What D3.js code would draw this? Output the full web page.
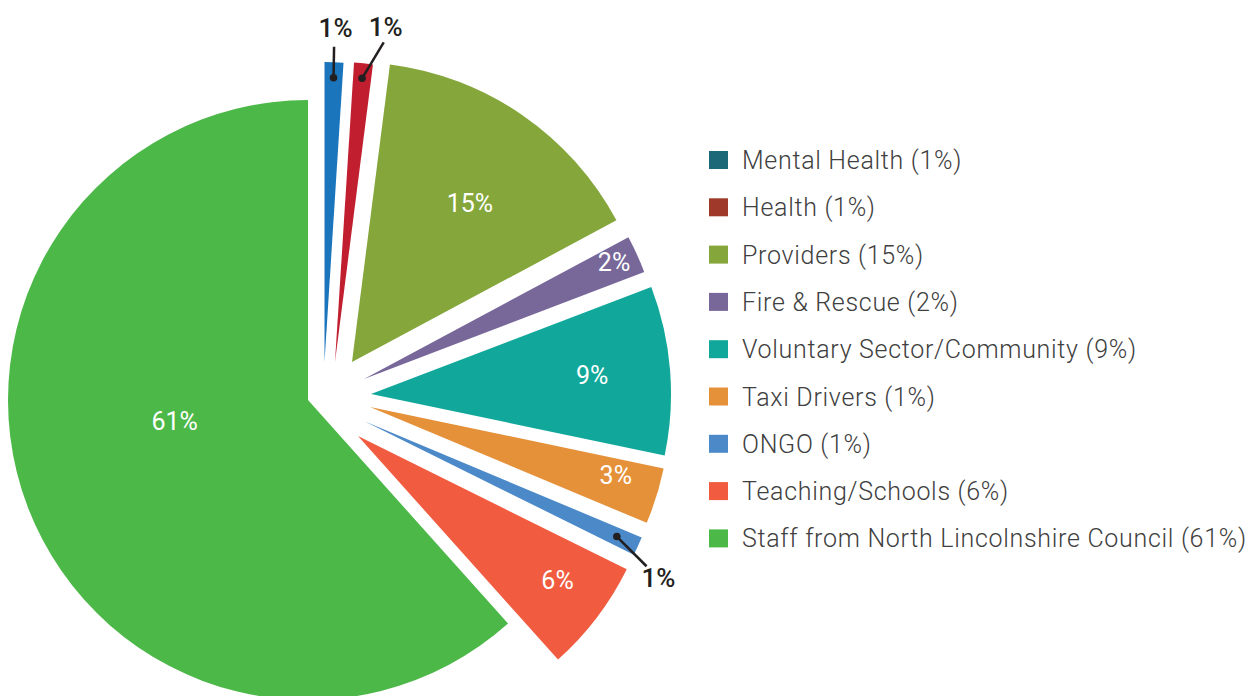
<!DOCTYPE html>
<html>
<head>
<meta charset="utf-8">
<script src="https://cdn.jsdelivr.net/npm/d3@7"></script>
<style>
  body { margin: 0; background: #fff; }
  svg { display: block; font-family: Roboto, "Open Sans", sans-serif; }
</style>
</head>
<body>
<svg id="chart" width="1251" height="696"></svg>
<script>
// data
var categories = ["Mental Health", "Health", "Providers", "Fire & Rescue",
    "Voluntary Sector/Community", "Taxi Drivers", "ONGO", "Teaching/Schools",
    "Staff from North Lincolnshire Council"];
var sliceValues = [1, 1, 15, 2, 9, 3, 1, 6, 61];     // size of each slice / label in the pie
var legendValues = [1, 1, 15, 2, 9, 1, 1, 6, 61];    // numbers printed in the legend
var sliceColors = ["#1b75bc", "#c11f30", "#84a63b", "#786799", "#11a89b",
    "#e5913a", "#4b89c8", "#f15b40", "#4cb848"];
var legendColors = ["#1d6878", "#9f3a2a", "#84a63b", "#786799", "#11a89b",
    "#e5913a", "#4b89c8", "#f15b40", "#4cb848"];

// layout
var cx = 308, cy = 400, R = 300;
// each slice is pulled out: [distance, direction in degrees clockwise from top]
var explode = [[41.4, 23.5], [46.6, 35.4], [58.1, 49.2], [59.8, 69.4], [63.3, 84.6],
    [62.4, 96.4], [60.9, 110.7], [61.6, 125.8], [0, 0]];
// inside labels: [fraction of radius, degrees added to the slice bisector], null = outside label
var inLabel = [null, null, [0.66, 2], [0.92, -0.5], [0.74, -0.5], [0.85, -1.8], null, [0.82, -1.5], [0.45, 12]];
// outside labels: [dot radius fraction, leader length, leader direction, text dx, text dy]
var outLabel = {0: [0.948, 31, 1, 1.5, -10], 1: [0.95, 42, 31, 2, -6], 6: [0.923, 42, 135, 12, 21]};

var rad = Math.PI / 180;
function polar(r, deg) { return [r * Math.sin(deg * rad), -r * Math.cos(deg * rad)]; }

var svg = d3.select("#chart");

var pie = d3.pie().sort(null).value(function(d){ return d; });
var arcs = pie(sliceValues);
var arc = d3.arc().innerRadius(0).outerRadius(R);

var g = svg.append("g").attr("transform", "translate(" + cx + "," + cy + ")");

var slices = g.selectAll("g.slice")
    .data(arcs)
    .enter().append("g")
    .attr("class", "slice")
    .attr("transform", function(d, i){
        var o = polar(explode[i][0], explode[i][1]);
        return "translate(" + o[0] + "," + o[1] + ")";
    });

slices.append("path")
    .attr("d", arc)
    .attr("fill", function(d, i){ return sliceColors[i]; });

// white labels inside the slices
slices.filter(function(d, i){ return inLabel[i]; })
    .append("text")
    .attr("transform", function(d){
        var i = arcs.indexOf(d);
        var mid = (d.startAngle + d.endAngle) / 2 / rad + inLabel[i][1];
        var p = polar(inLabel[i][0] * R, mid);
        return "translate(" + p[0] + "," + p[1] + ")";
    })
    .attr("dy", "0.36em")
    .attr("text-anchor", "middle")
    .style("fill", "white")
    .style("font-size", "25px")
    .style("font-weight", 400)
    .text(function(d){ return d.value + "%"; });

// small slices labelled outside with a leader line
slices.filter(function(d, i){ return outLabel[i]; })
    .each(function(d){
        var i = arcs.indexOf(d);
        var L = outLabel[i];
        var mid = (d.startAngle + d.endAngle) / 2 / rad;
        var dot = polar(L[0] * R, mid);
        var lead = polar(L[1], L[2]);
        var end = [dot[0] + lead[0], dot[1] + lead[1]];
        var sel = d3.select(this);
        sel.append("line")
            .attr("x1", dot[0]).attr("y1", dot[1])
            .attr("x2", end[0]).attr("y2", end[1])
            .style("stroke", "#231f20")
            .style("stroke-width", 2.5);
        sel.append("circle")
            .attr("cx", dot[0]).attr("cy", dot[1])
            .attr("r", 3.8)
            .style("fill", "#231f20");
        sel.append("text")
            .attr("x", end[0] + L[3])
            .attr("y", end[1] + L[4])
            .attr("text-anchor", "middle")
            .style("fill", "#231f20")
            .style("font-size", "26px")
            .style("font-weight", 500)
            .text(d.value + "%");
    });

// legend
var legend = svg.append("g").attr("transform", "translate(709,160)");
var rows = legend.selectAll("g")
    .data(categories)
    .enter().append("g")
    .attr("transform", function(d, i){ return "translate(0," + (i * 47.3) + ")"; });

rows.append("rect")
    .attr("x", 0).attr("y", -9)
    .attr("width", 19).attr("height", 18)
    .attr("fill", function(d, i){ return legendColors[i]; });

rows.append("text")
    .attr("x", 33)
    .attr("dy", "0.36em")
    .style("fill", "#404040")
    .style("font-size", "25px")
    .style("font-weight", 300)
    .style("letter-spacing", "0.7px")
    .text(function(d, i){ return d + " (" + legendValues[i] + "%)"; });
</script>
</body>
</html>
